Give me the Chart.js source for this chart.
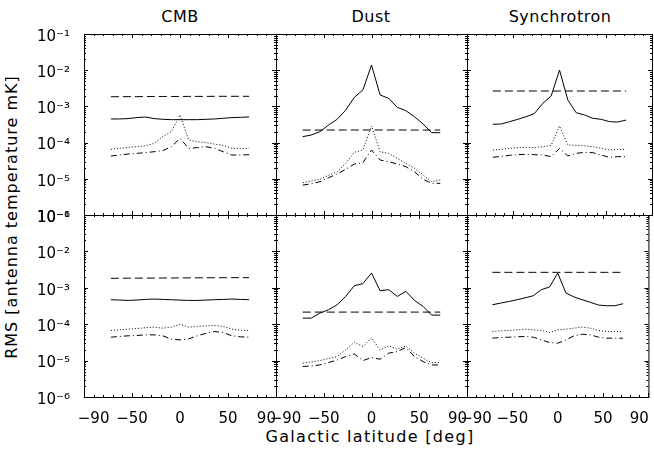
<!DOCTYPE html>
<html>
<head>
<meta charset="utf-8">
<script src="https://cdn.jsdelivr.net/npm/chart.js@4.4.1/dist/chart.umd.min.js"></script>
<style>
  html, body { margin: 0; padding: 0; background: #fff; }
  #wrap { position: relative; width: 654px; height: 451px; overflow: hidden;
          font-family: "DejaVu Sans", sans-serif; color: #000; }
  #wrap canvas { position: absolute; left: 0; top: 0; }
  .lbl { position: absolute; white-space: nowrap; line-height: 1; }
  .title { font-size: 16px; letter-spacing: 0.5px; transform: translate(-50%, -50%); }
  .axt { font-size: 16px; letter-spacing: 1.3px; transform: translate(-50%, -50%); }
  .axt.rot { letter-spacing: 1px; transform: translate(-50%, -50%) rotate(-90deg); }
</style>
</head>
<body>
<div id="wrap">
  <div class="lbl title" style="left:180px;top:17px">CMB</div>
  <div class="lbl title" style="left:371px;top:17px">Dust</div>
  <div class="lbl title" style="left:560px;top:17px">Synchrotron</div>
  <div class="lbl axt rot" style="left:12px;top:217px">RMS [antenna temperature mK]</div>
  <div class="lbl axt" style="left:370px;top:437px">Galactic latitude [deg]</div>
</div>
<script>
// ── Data ──
const latitudes = [-72, -63, -54, -45, -36, -27, -18, -9, 0, 9, 18, 27, 36, 45, 54, 63, 72];
const xTickVals = [-90, -50, 0, 50, 90];
const yTickVals = [1e-1, 1e-2, 1e-3, 1e-4, 1e-5, 1e-6];

// top row
const cmb1Solid   = [4.5e-4, 4.5e-4, 4.6e-4, 4.9e-4, 5.1e-4, 4.6e-4, 4.4e-4, 4.3e-4, 4.3e-4, 4.3e-4, 4.3e-4, 4.4e-4, 4.5e-4, 4.7e-4, 4.9e-4, 5.0e-4, 5.1e-4];
const cmb1Dashed  = [1.85e-3, 1.85e-3, 1.86e-3, 1.86e-3, 1.87e-3, 1.87e-3, 1.88e-3, 1.88e-3, 1.88e-3, 1.89e-3, 1.89e-3, 1.89e-3, 1.9e-3, 1.9e-3, 1.9e-3, 1.9e-3, 1.9e-3];
const cmb1Dotted  = [6.5e-5, 6.95e-5, 7.4e-5, 7.7e-5, 8.2e-5, 9.5e-5, 1.46e-4, 2.0e-4, 5.8e-4, 1.18e-4, 1.06e-4, 1.0e-4, 9.1e-5, 8.4e-5, 6.95e-5, 6.8e-5, 6.95e-5];
const cmb1DashDot = [4.27e-5, 4.54e-5, 4.84e-5, 5.05e-5, 5.27e-5, 5.6e-5, 5.98e-5, 7.7e-5, 1.31e-4, 6.95e-5, 7.25e-5, 7.7e-5, 6.95e-5, 5.6e-5, 4.54e-5, 4.54e-5, 4.64e-5];

const dust1Solid   = [1.46e-4, 1.62e-4, 2.0e-4, 3.06e-4, 4.4e-4, 7.9e-4, 1.78e-3, 2.84e-3, 1.39e-2, 2.07e-3, 1.67e-3, 9.4e-4, 7.6e-4, 5.2e-4, 3.27e-4, 1.88e-4, 1.88e-4];
const dust1Dashed  = [2.22e-4, 2.22e-4, 2.22e-4, 2.22e-4, 2.23e-4, 2.23e-4, 2.23e-4, 2.23e-4, 2.23e-4, 2.23e-4, 2.23e-4, 2.23e-4, 2.23e-4, 2.22e-4, 2.22e-4, 2.22e-4, 2.22e-4];
const dust1Dotted  = [7.8e-6, 8.7e-6, 9.7e-6, 1.25e-5, 1.57e-5, 2.67e-5, 5.4e-5, 6.25e-5, 2.88e-4, 5.6e-5, 5.05e-5, 3.67e-5, 2.67e-5, 1.95e-5, 1.27e-5, 8.3e-6, 9.3e-6];
const dust1DashDot = [6.7e-6, 7.3e-6, 8.3e-6, 1.07e-5, 1.36e-5, 1.83e-5, 2.56e-5, 2.79e-5, 6.25e-5, 3.3e-5, 2.97e-5, 2.56e-5, 2.16e-5, 1.57e-5, 9.7e-6, 7.5e-6, 7.5e-6];

const sync1Solid   = [3.2e-4, 3.27e-4, 3.79e-4, 4.4e-4, 5.2e-4, 6.4e-4, 1.22e-3, 1.94e-3, 1.01e-2, 1.5e-3, 6.7e-4, 5.8e-4, 4.68e-4, 4.4e-4, 3.79e-4, 3.7e-4, 4.2e-4];
const sync1Dashed  = [2.66e-3, 2.66e-3, 2.66e-3, 2.66e-3, 2.66e-3, 2.66e-3, 2.66e-3, 2.66e-3, 2.66e-3, 2.66e-3, 2.66e-3, 2.66e-3, 2.66e-3, 2.66e-3, 2.66e-3, 2.66e-3, 2.66e-3];
const sync1Dotted  = [6.25e-5, 6.5e-5, 6.95e-5, 7.25e-5, 7.4e-5, 7.25e-5, 7.7e-5, 8.4e-5, 2.88e-4, 8.6e-5, 8.4e-5, 8.2e-5, 7.7e-5, 6.95e-5, 6.25e-5, 6.5e-5, 6.5e-5];
const sync1DashDot = [3.92e-5, 4.18e-5, 4.45e-5, 4.64e-5, 4.74e-5, 4.64e-5, 4.54e-5, 4.09e-5, 6.95e-5, 4.27e-5, 5.05e-5, 5.38e-5, 5.27e-5, 4.54e-5, 3.92e-5, 4.09e-5, 4.09e-5];

// bottom row
const cmb2Solid   = [4.7e-4, 4.6e-4, 4.5e-4, 4.6e-4, 4.8e-4, 4.9e-4, 4.8e-4, 4.7e-4, 4.6e-4, 4.5e-4, 4.5e-4, 4.6e-4, 4.7e-4, 4.8e-4, 4.9e-4, 4.8e-4, 4.7e-4];
const cmb2Dashed  = [1.82e-3, 1.83e-3, 1.84e-3, 1.84e-3, 1.85e-3, 1.85e-3, 1.86e-3, 1.86e-3, 1.87e-3, 1.87e-3, 1.88e-3, 1.88e-3, 1.89e-3, 1.89e-3, 1.9e-3, 1.9e-3, 1.9e-3];
const cmb2Dotted  = [6.7e-5, 7.0e-5, 7.3e-5, 7.6e-5, 8.0e-5, 8.3e-5, 7.8e-5, 8.3e-5, 1.0e-4, 8.3e-5, 8.7e-5, 9.0e-5, 9.2e-5, 8.7e-5, 7.3e-5, 6.85e-5, 6.7e-5];
const cmb2DashDot = [4.4e-5, 4.6e-5, 4.8e-5, 4.9e-5, 5.1e-5, 5.1e-5, 4.8e-5, 3.9e-5, 3.7e-5, 3.96e-5, 4.8e-5, 5.6e-5, 6.3e-5, 5.9e-5, 4.8e-5, 4.5e-5, 4.4e-5];

const dust2Solid   = [1.47e-4, 1.47e-4, 2.02e-4, 2.49e-4, 3.42e-4, 5.8e-4, 1.14e-3, 1.3e-3, 2.55e-3, 8.3e-4, 8.9e-4, 5.8e-4, 8.0e-4, 4.5e-4, 3.08e-4, 1.78e-4, 1.78e-4];
const dust2Dashed  = [2.15e-4, 2.15e-4, 2.15e-4, 2.15e-4, 2.15e-4, 2.15e-4, 2.15e-4, 2.15e-4, 2.15e-4, 2.15e-4, 2.15e-4, 2.15e-4, 2.15e-4, 2.15e-4, 2.15e-4, 2.15e-4, 2.15e-4];
const dust2Dotted  = [8.5e-6, 9.2e-6, 1.0e-5, 1.14e-5, 1.29e-5, 1.97e-5, 3.2e-5, 2.43e-5, 4.2e-5, 1.97e-5, 2.54e-5, 2.06e-5, 2.54e-5, 1.6e-5, 1.16e-5, 8.8e-6, 8.8e-6];
const dust2DashDot = [6.9e-6, 7.1e-6, 7.6e-6, 8.8e-6, 1.04e-5, 1.29e-5, 1.53e-5, 1.0e-5, 1.21e-5, 1.09e-5, 1.6e-5, 1.77e-5, 2.29e-5, 1.29e-5, 9.4e-6, 7.6e-6, 7.6e-6];

const sync2Solid   = [3.42e-4, 3.8e-4, 4.2e-4, 4.7e-4, 5.3e-4, 6.05e-4, 8.9e-4, 1.05e-3, 2.55e-3, 7.2e-4, 5.6e-4, 4.7e-4, 4.0e-4, 3.35e-4, 3.21e-4, 3.21e-4, 3.65e-4];
const sync2Dashed  = [2.66e-3, 2.66e-3, 2.66e-3, 2.66e-3, 2.66e-3, 2.66e-3, 2.66e-3, 2.66e-3, 2.66e-3, 2.66e-3, 2.66e-3, 2.66e-3, 2.66e-3, 2.66e-3, 2.66e-3, 2.66e-3, 2.66e-3];
const sync2Dotted  = [6.3e-5, 6.6e-5, 6.7e-5, 7.0e-5, 7.3e-5, 7.0e-5, 6.7e-5, 5.9e-5, 7.0e-5, 7.3e-5, 7.8e-5, 8.3e-5, 7.8e-5, 6.7e-5, 6.3e-5, 6.3e-5, 6.3e-5];
const sync2DashDot = [4.13e-5, 4.3e-5, 4.4e-5, 4.5e-5, 4.6e-5, 4.4e-5, 3.7e-5, 3.14e-5, 3.0e-5, 3.7e-5, 4.8e-5, 5.3e-5, 5.1e-5, 4.4e-5, 4.13e-5, 4.13e-5, 4.13e-5];

// ── Layout ──
const W = 654, H = 451;
const colEdges = [84, 276, 467, 652];
const rowEdges = [34, 215, 397];
const Y_AXIS_W = 60;   // room for y tick labels (left of box)
const X_AXIS_H = 30;   // room for x tick labels (below box)

const panels = [
  [cmb1Solid, cmb1Dashed, cmb1Dotted, cmb1DashDot],
  [dust1Solid, dust1Dashed, dust1Dotted, dust1DashDot],
  [sync1Solid, sync1Dashed, sync1Dotted, sync1DashDot],
  [cmb2Solid, cmb2Dashed, cmb2Dotted, cmb2DashDot],
  [dust2Solid, dust2Dashed, dust2Dotted, dust2DashDot],
  [sync2Solid, sync2Dashed, sync2Dotted, sync2DashDot],
];
const dashes = [[], [8, 4], [1, 2], [6, 3, 1, 3]];

const SUP = { '-': '\u207B', '0': '\u2070', '1': '\u00B9', '2': '\u00B2', '3': '\u00B3',
  '4': '\u2074', '5': '\u2075', '6': '\u2076', '7': '\u2077', '8': '\u2078', '9': '\u2079' };
const sup = s => String(s).split('').map(c => SUP[c] || c).join('');
const fmtX = v => (v < 0 ? '\u2212' + Math.abs(v) : String(v));
const fmtY = v => '10' + sup(Math.round(Math.log10(v)));

// box + inward ticks on all four sides
const frame = {
  id: 'frame',
  afterDraw(chart) {
    const { ctx, chartArea: a, scales: { x, y } } = chart;
    ctx.save();
    ctx.strokeStyle = '#000';
    ctx.lineWidth = 1;
    ctx.strokeRect(a.left + 0.5, a.top + 0.5, a.right - a.left, a.bottom - a.top);
    ctx.beginPath();
    for (let v = -100; v <= 100; v += 10) {
      const px = Math.round(x.getPixelForValue(v)) + 0.5;
      const len = v % 50 === 0 ? 4 : 2;
      ctx.moveTo(px, a.bottom); ctx.lineTo(px, a.bottom - len);
      ctx.moveTo(px, a.top); ctx.lineTo(px, a.top + len);
    }
    for (let e = -6; e <= -1; e++) {
      for (let m = 1; m <= 9; m++) {
        const v = m * Math.pow(10, e);
        if (v > 0.1 + 1e-12) break;
        const py = Math.round(y.getPixelForValue(v)) + 0.5;
        const len = m === 1 ? 4 : 2;
        ctx.moveTo(a.left, py); ctx.lineTo(a.left + len, py);
        ctx.moveTo(a.right, py); ctx.lineTo(a.right - len, py);
      }
    }
    ctx.stroke();
    ctx.restore();
  }
};

const wrap = document.getElementById('wrap');
const tickFont = { family: '"DejaVu Sans", sans-serif', size: 15 };

panels.forEach((series, i) => {
  const row = Math.floor(i / 3), col = i % 3;
  const canvas = document.createElement('canvas');
  canvas.width = W; canvas.height = H;
  canvas.style.width = W + 'px'; canvas.style.height = H + 'px';
  wrap.appendChild(canvas);

  new Chart(canvas, {
    type: 'line',
    data: {
      datasets: series.map((vals, k) => ({
        data: latitudes.map((lat, j) => ({ x: lat, y: vals[j] })),
        borderColor: '#000',
        borderWidth: 1,
        borderDash: dashes[k],
        pointRadius: 0,
        tension: 0,
        fill: false,
      })),
    },
    options: {
      responsive: false,
      animation: false,
      events: [],
      layout: {
        padding: {
          left: colEdges[col] - Y_AXIS_W, right: W - colEdges[col + 1],
          top: rowEdges[row], bottom: H - rowEdges[row + 1] - X_AXIS_H,
        },
      },
      plugins: { legend: { display: false }, tooltip: { enabled: false } },
      scales: {
        x: {
          type: 'linear', min: -100, max: 100,
          grid: { display: false }, border: { display: false },
          ticks: {
            display: row === 1, color: '#000', font: tickFont, padding: 5,
            maxRotation: 0, autoSkip: false, callback: v => fmtX(v),
          },
          afterBuildTicks: s => { s.ticks = xTickVals.map(v => ({ value: v })); },
          afterFit: s => { s.height = X_AXIS_H; },
        },
        y: {
          type: 'logarithmic', min: 1e-6, max: 1e-1,
          grid: { display: false }, border: { display: false },
          ticks: {
            display: col === 0, color: '#000', font: tickFont, padding: 6,
            labelOffset: 3, autoSkip: false, callback: v => fmtY(v),
          },
          afterBuildTicks: s => { s.ticks = yTickVals.map(v => ({ value: v })); },
          afterFit: s => { s.width = Y_AXIS_W; },
        },
      },
    },
    plugins: [frame],
  });
});
</script>
</body>
</html>
